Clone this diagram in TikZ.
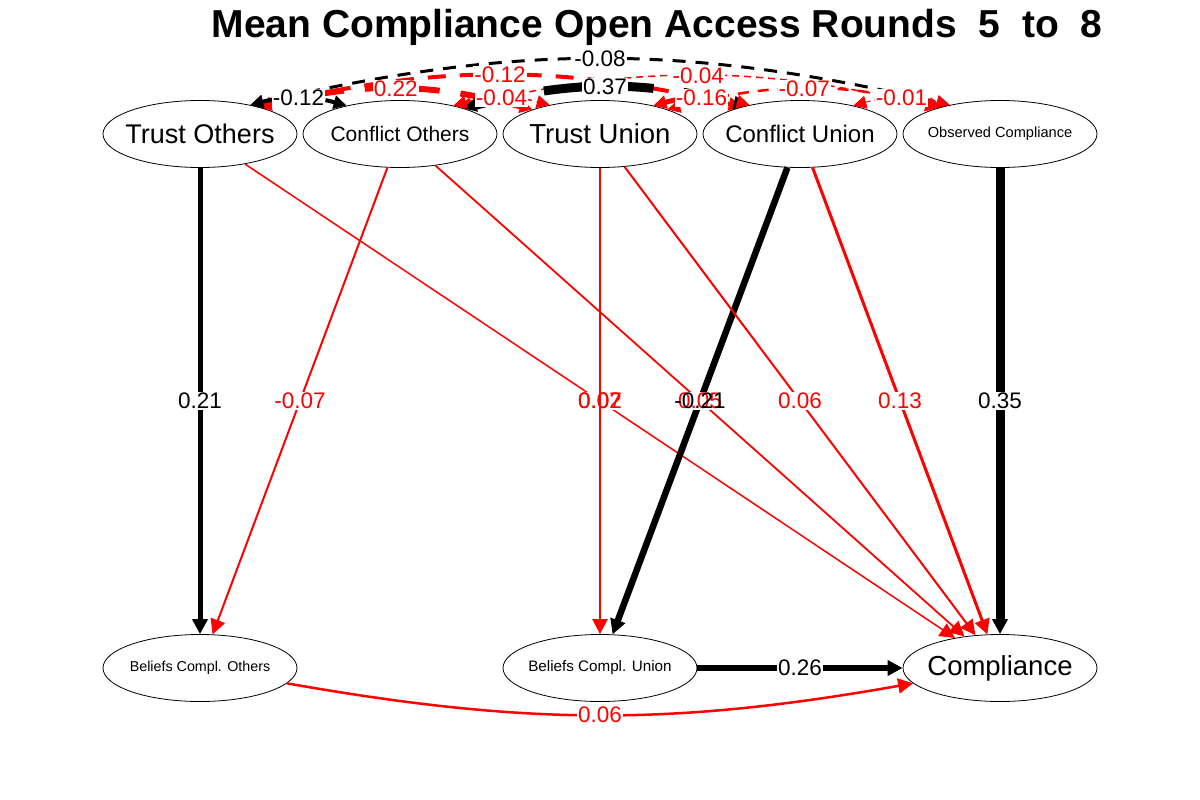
\documentclass[tikz,border=0pt]{standalone}
\usepackage{fontspec}
\setmainfont{Liberation Sans}
\usetikzlibrary{shapes.geometric,arrows.meta}

\begin{document}
\begin{tikzpicture}[x=1pt,y=1pt,
    >={Triangle[length=15pt,width=15pt]},
    var/.style={ellipse,draw,line width=0.8pt,minimum width=194pt,minimum height=67pt,inner sep=0pt},
    lab/.style={font=\fontsize{22.5}{22.5}\selectfont,fill=white,inner sep=1pt},
    cov/.style={<->,>={Triangle[length=13pt,width=13pt]}}]
    \path[use as bounding box] (0,0) rectangle (1200,-800);

    % title
    \node[anchor=base] (title) at (657,-38) {\fontsize{39}{39}\selectfont\bfseries Mean Compliance Open Access Rounds~~5~~to~~8};

    % draw nodes
    \node[var,font=\fontsize{27}{27}\selectfont] (TO) at (200,-134) {\makebox[0pt]{Trust Others}};
    \node[var,font=\fontsize{21}{21}\selectfont] (CO) at (400,-134) {\makebox[0pt]{Conflict Others}};
    \node[var,font=\fontsize{27.5}{27.5}\selectfont] (TU) at (600,-134) {\makebox[0pt]{Trust Union}};
    \node[var,font=\fontsize{24}{24}\selectfont] (CU) at (800,-134) {\makebox[0pt]{Conflict Union}};
    \node[var,font=\fontsize{14.6}{14.6}\selectfont] (OC) at (1000,-134) {\makebox[0pt]{\raisebox{-2pt}{Observed Compliance}}};
    \node[var,font=\fontsize{14.3}{14.3}\selectfont] (BCO) at (200,-668) {\makebox[0pt]{\raisebox{-2pt}{Beliefs Compl. Others}}};
    \node[var,font=\fontsize{15.2}{15.2}\selectfont] (BCU) at (600,-668) {\makebox[0pt]{\raisebox{-2pt}{Beliefs Compl. Union}}};
    \node[var,font=\fontsize{27.5}{27.5}\selectfont] (Comp) at (1000,-668) {\makebox[0pt]{Compliance}};

    % regressions
    \draw[->,line width=5pt] (TO) -- node[lab,midway] {0.21} (BCO);
    \draw[->,red,line width=2pt] (CO) -- node[lab,midway] {-0.07} (BCO);
    \draw[->,red,line width=1.5pt] (TO) -- node[lab,midway] {0.02} (Comp);
    \draw[->,red,line width=2.5pt] (TU) -- node[lab,midway,fill=none] {0.07} (BCU);
    \draw[->,line width=6.5pt] (CU) -- (BCU);
    \draw[->,red,line width=1.8pt] (CO) -- node[lab,midway] {0.05} (Comp);
    \path (CU) -- node[lab,midway,fill=none] {-0.21} (BCU);
    \draw[->,red,line width=2pt] (TU) -- node[lab,midway] {0.06} (Comp);
    \draw[->,red,line width=3pt] (CU) -- node[lab,midway] {0.13} (Comp);
    \draw[->,line width=9pt] (OC) -- node[lab,midway] {0.35} (Comp);
    \draw[->,line width=6.5pt] (BCU) -- node[lab,midway] {0.26} (Comp);
    \draw[->,red,line width=2.5pt] (BCO) to[bend right=10] node[lab,midway] {0.06} (Comp);

    % covariances
    \draw[cov,line width=3pt,dash pattern=on 13pt off 10pt] (TO.30) to[bend left=13] node[lab,midway] {-0.08} (OC.150);
    \draw[cov,red,line width=4pt,dash pattern=on 18pt off 14pt] (TO.25) to[bend left=13] node[lab,midway] {-0.12} (CU.155);
    \draw[cov,red,line width=1.5pt,dash pattern=on 7pt off 5pt] (CO.25) to[bend left=13] node[lab,midway] {-0.04} (OC.157);
    \draw[cov,red,line width=6pt,dash pattern=on 27pt off 21pt] (TO.25) to[bend left=14] node[lab,midway] {0.22} (TU.160);
    \draw[cov,line width=9pt,dash pattern=on 40pt off 30pt] (CO.22) to[bend left=14] node[lab,midway] {0.37} (CU.152);
    \draw[cov,red,line width=2.5pt,dash pattern=on 11pt off 9pt] (TU.20) to[bend left=14] node[lab,midway] {-0.07} (OC.155);
    \draw[cov,line width=4pt,dash pattern=on 18pt off 14pt] (TO.30) to[bend left=15] node[lab,midway] {-0.12} (CO.152);
    \draw[cov,red,line width=1.5pt,dash pattern=on 7pt off 5pt] (CO.28) to[bend left=15] node[lab,midway] {-0.04} (TU.150);
    \draw[cov,red,line width=5pt,dash pattern=on 22pt off 17pt] (TU.28) to[bend left=15] node[lab,midway] {-0.16} (CU.150);
    \draw[cov,red,line width=1pt,dash pattern=on 5pt off 4pt] (CU.28) to[bend left=15] node[lab,midway] {-0.01} (OC.150);
\end{tikzpicture}
\end{document}
